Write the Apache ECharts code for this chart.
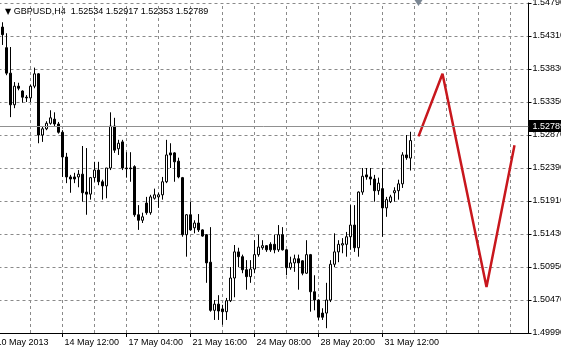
<!DOCTYPE html>
<html><head><meta charset="utf-8">
<script src="https://cdn.jsdelivr.net/npm/echarts@6/dist/echarts.min.js"></script>
<style>html,body{margin:0;padding:0;background:#fff}#c{width:561px;height:354px}</style>
</head><body><div id="c"></div>
<script>
const symbolName = 'GBPUSD,H4';
const opens = [1.5444,1.5414,1.5377,1.5331,1.5358,1.5351,1.5342,1.5341,1.5358,1.5376,
1.5287,1.5296,1.5304,1.5310,1.5303,1.5291,1.5255,1.5226,1.5226,1.5226,
1.5230,1.5204,1.5201,1.5225,1.5236,1.5219,1.5213,1.5239,1.5300,1.5267,
1.5277,1.5239,1.5239,1.5241,1.5171,1.5163,1.5188,1.5174,1.5195,1.5197,
1.5200,1.5219,1.5261,1.5261,1.5249,1.5225,1.5142,1.5171,1.5152,1.5159,
1.5149,1.5142,1.5102,1.5032,1.5041,1.5034,1.5030,1.5046,1.5079,1.5117,
1.5110,1.5091,1.5081,1.5092,1.5113,1.5123,1.5126,1.5128,1.5128,1.5120,
1.5142,1.5120,1.5094,1.5101,1.5107,1.5104,1.5086,1.5113,1.5059,1.5047,
1.5028,1.5028,1.5047,1.5099,1.5117,1.5127,1.5128,1.5139,1.5156,1.5123,
1.5204,1.5229,1.5226,1.5223,1.5206,1.5209,1.5181,1.5190,1.5203,1.5206,
1.5216,1.5258,1.52534];
const closes = [1.5433,1.5377,1.5331,1.5358,1.5355,1.5342,1.5341,1.5358,1.5376,1.5287,
1.5296,1.5304,1.5312,1.5303,1.5291,1.5255,1.5226,1.5223,1.5223,1.5230,
1.5203,1.5201,1.5225,1.5236,1.5219,1.5213,1.5239,1.5300,1.5265,1.5275,
1.5239,1.5238,1.5238,1.5171,1.5163,1.5168,1.5174,1.5197,1.5200,1.5200,
1.5219,1.5258,1.5258,1.5248,1.5226,1.5142,1.5171,1.5149,1.5159,1.5149,
1.5140,1.5101,1.5032,1.5041,1.5031,1.5030,1.5046,1.5079,1.5117,1.5110,
1.5091,1.5081,1.5092,1.5113,1.5124,1.5126,1.5120,1.5120,1.5120,1.5142,
1.5120,1.5094,1.5101,1.5107,1.5101,1.5086,1.5113,1.5059,1.5047,1.5022,
1.5022,1.5047,1.5099,1.5117,1.5128,1.5129,1.5139,1.5156,1.5123,1.5204,
1.5227,1.5226,1.5223,1.5206,1.5217,1.5181,1.5193,1.5197,1.5206,1.5216,
1.5258,1.5254,1.52789];
const lows = [1.5418,1.5374,1.5313,1.5326,1.5352,1.5334,1.5335,1.5335,1.5355,1.5275,
1.5277,1.5294,1.5302,1.5299,1.5289,1.5226,1.5217,1.5203,1.5217,1.5211,
1.5190,1.5171,1.5193,1.5219,1.5214,1.5193,1.5195,1.5236,1.5261,1.5258,
1.5236,1.5225,1.5219,1.5168,1.5149,1.5159,1.5171,1.5171,1.5193,1.5181,
1.5193,1.5217,1.5239,1.5219,1.5224,1.5139,1.5110,1.5148,1.5144,1.5146,
1.5139,1.5072,1.5030,1.5018,1.5018,1.5011,1.5018,1.5044,1.5051,1.5095,
1.5086,1.5062,1.5072,1.5086,1.5110,1.5120,1.5117,1.5117,1.5115,1.5117,
1.5119,1.5083,1.5091,1.5088,1.5062,1.5083,1.5085,1.5030,1.5032,1.5018,
1.5018,1.5006,1.5044,1.5095,1.5102,1.5115,1.5110,1.5120,1.5117,1.5110,
1.5200,1.5222,1.5214,1.5190,1.5200,1.5139,1.5168,1.5188,1.5190,1.5193,
1.5210,1.5251,1.52353];
const highs = [1.5451,1.5435,1.5415,1.5364,1.5363,1.5352,1.5345,1.5360,1.5385,1.5377,
1.5299,1.5307,1.5323,1.5320,1.5306,1.5294,1.5261,1.5229,1.5232,1.5236,
1.5271,1.5268,1.5226,1.5248,1.5248,1.5222,1.5239,1.5320,1.5312,1.5280,
1.5280,1.5262,1.5262,1.5243,1.5185,1.5174,1.5197,1.5200,1.5209,1.5203,
1.5226,1.5280,1.5275,1.5262,1.5254,1.5226,1.5172,1.5190,1.5163,1.5172,
1.5150,1.5143,1.5153,1.5047,1.5054,1.5040,1.5050,1.5095,1.5127,1.5123,
1.5113,1.5105,1.5105,1.5134,1.5142,1.5134,1.5127,1.5131,1.5142,1.5156,
1.5153,1.5121,1.5110,1.5113,1.5113,1.5105,1.5134,1.5114,1.5083,1.5048,
1.5035,1.5072,1.5105,1.5144,1.5134,1.5137,1.5146,1.5185,1.5185,1.5205,
1.5239,1.5239,1.5239,1.5229,1.5225,1.5239,1.5197,1.5200,1.5211,1.5222,
1.5262,1.5287,1.52917];
// bar slots: 2 empty leading slots, then candles, then the shifted empty area
const leadSlots = 2;
const totalSlots = 134;
const tickSlots = [0, 17, 33, 49, 65, 81, 97];
const tickLabels = ['10 May 2013','14 May 12:00','17 May 04:00','21 May 16:00','24 May 08:00','28 May 20:00','31 May 12:00'];
// forecast zigzag: [slot, price]
const forecastSlots = [106, 112, 123, 130];
const forecastPrices = [1.5285, 1.5376, 1.5066, 1.5272];
const yMin = 1.4999, yMax = 1.5479, yStep = 0.0048;
const lastPrice = closes[closes.length - 1];

const slots = Array.from({length: totalSlots}, (_, i) => String(i));
const candleData = slots.map((_, i) => {
  const k = i - leadSlots;
  return (k >= 0 && k < opens.length) ? [opens[k], closes[k], lows[k], highs[k]] : '-';
});
const labelMap = {};
tickSlots.forEach((s, j) => labelMap[s] = tickLabels[j]);
const gridSlots = [];
for (let s = leadSlots + 7; s < totalSlots; s += 8) gridSlots.push(s);
const fmt = v => v.toFixed(5);
const n = opens.length - 1;
const titleText = '{t|\u25BC} ' + symbolName + '  ' + [opens[n], highs[n], lows[n], closes[n]].map(fmt).join(' ');

const FONT = 'Liberation Sans';
const chart = echarts.init(document.getElementById('c'), null, {renderer: 'canvas'});
chart.setOption({
  animation: false,
  backgroundColor: '#ffffff',
  title: {
    text: titleText, left: 0, top: 2,
    textStyle: {fontFamily: FONT, fontSize: 9, fontWeight: 'normal', color: '#000',
      rich: {t: {fontSize: 8, color: '#000', fontFamily: 'DejaVu Sans'}}}
  },
  grid: {left: -7.5, right: 32.5, top: 3, bottom: 21, containLabel: false, outerBoundsMode: 'none'},
  xAxis: {
    type: 'category', data: slots, boundaryGap: true,
    axisLine: {show: true, lineStyle: {color: '#000', width: 1}},
    axisTick: {show: true, alignWithLabel: true, length: 4, lineStyle: {color: '#000'},
      interval: (i) => labelMap[i] !== undefined},
    axisLabel: {show: true, interval: (i) => labelMap[i] !== undefined,
      formatter: (v, i) => labelMap[i] || '', align: 'left', padding: [0, 0, 0, 2],
      margin: 5, color: '#000', fontFamily: FONT, fontSize: 9, hideOverlap: false},
    splitLine: {show: false}
  },
  yAxis: {
    type: 'value', position: 'right', min: yMin, max: yMax, interval: yStep, scale: true,
    axisLine: {show: true, lineStyle: {color: '#000', width: 1}},
    axisTick: {show: true, length: 3, inside: false, lineStyle: {color: '#000'}},
    axisLabel: {show: true, margin: 4, formatter: fmt, color: '#000', fontFamily: FONT, fontSize: 9, hideOverlap: false},
    splitLine: {show: true, lineStyle: {color: '#8a8a8a', type: [3, 3], width: 1}}
  },
  series: [
    {
      type: 'candlestick', data: candleData, barWidth: 3,
      itemStyle: {color: '#ffffff', color0: '#000000', borderColor: '#000000', borderColor0: '#000000', borderWidth: 1},
      markLine: {
        silent: true, symbol: 'none', z: 1, animation: false,
        label: {show: false},
        lineStyle: {color: '#8a8a8a', type: [3, 3], width: 1},
        data: gridSlots.map(s => ({xAxis: s}))
      }
    },
    {
      type: 'line', data: forecastSlots.map((s, i) => [s, forecastPrices[i]]),
      symbol: 'none', z: 3,
      lineStyle: {color: '#c8171d', width: 2.5},
      markLine: {
        silent: true, symbol: 'none', z: 4, animation: false,
        data: [{
          yAxis: lastPrice,
          lineStyle: {color: '#909090', type: 'solid', width: 1},
          label: {show: true, position: 'end', formatter: fmt(lastPrice), distance: 0,
            backgroundColor: '#000', color: '#fff', padding: [2, 3, 1, 4],
            fontFamily: FONT, fontSize: 9}
        }]
      },
      markPoint: {
        silent: true, animation: false,
        data: [{coord: [forecastSlots[0], yMax], symbol: 'triangle', symbolSize: [8, 6],
          symbolRotate: 180, itemStyle: {color: '#7b8794'}, label: {show: false}}]
      }
    }
  ]
});
</script></body></html>
